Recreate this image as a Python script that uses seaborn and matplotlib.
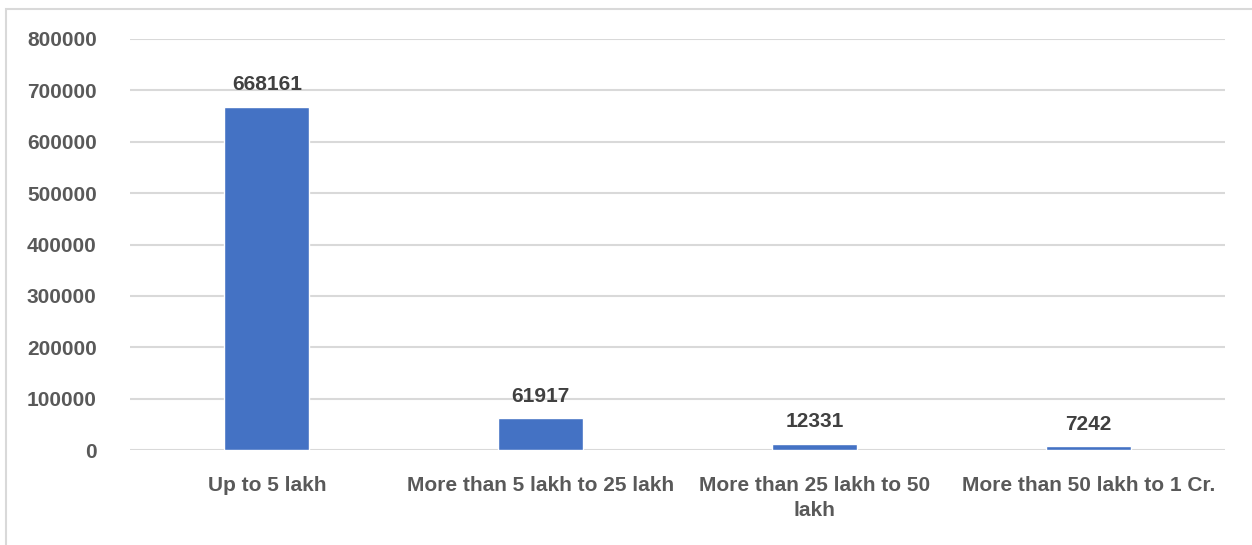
import pandas as pd
import numpy as np
import matplotlib.pyplot as plt
import seaborn as sns
from matplotlib.patches import Rectangle

# data
categories = ["Up to 5 lakh", "More than 5 lakh to 25 lakh",
              "More than 25 lakh to 50\nlakh", "More than 50 lakh to 1 Cr."]
counts = [668161, 61917, 12331, 7242]
yticks = [0, 100000, 200000, 300000, 400000, 500000, 600000, 700000, 800000]

df = pd.DataFrame({"category": categories, "count": counts})

sns.set_style("white")
plt.rcParams['font.family'] = ['Liberation Sans', 'DejaVu Sans']
plt.rcParams['font.weight'] = 'bold'

fig = plt.figure(figsize=(12.52, 5.45), dpi=100)
ax = fig.add_axes([130/1252, 1 - 450/545, 1095/1252, 411/545])

sns.barplot(data=df, x="category", y="count", color="#4472C4",
            width=0.31, saturation=1, ax=ax, zorder=3)

ax.set_ylim(0, 800000)
ax.set_xlim(-0.5, 3.5)
ax.set_yticks(yticks)
ax.set_yticklabels([str(v) for v in yticks])
ax.yaxis.grid(True, color="#D9D9D9", linewidth=1.5, zorder=0)
ax.set_axisbelow(True)
for s in ax.spines.values():
    s.set_visible(False)
ax.tick_params(axis='both', length=0, labelsize=15, labelcolor="#595959")
ax.tick_params(axis='y', pad=24)
ax.tick_params(axis='x', pad=19)
for lbl in ax.get_xticklabels() + ax.get_yticklabels():
    lbl.set_fontweight('bold')
    lbl.set_linespacing(1.35)
ax.set_xlabel("")
ax.set_ylabel("")

for i, v in enumerate(counts):
    ax.annotate(str(v), (i, v), xytext=(0, 9), textcoords="offset points",
                ha="center", va="bottom", fontsize=15, fontweight="bold",
                color="#404040")

# outer chart border
fig.patches.append(Rectangle((6/1252, -0.1), 1.2, 1 - 9/545 + 0.1,
                             transform=fig.transFigure, fill=False,
                             edgecolor="#D9D9D9", linewidth=1.5))

fig.savefig("out.png", dpi=100)
